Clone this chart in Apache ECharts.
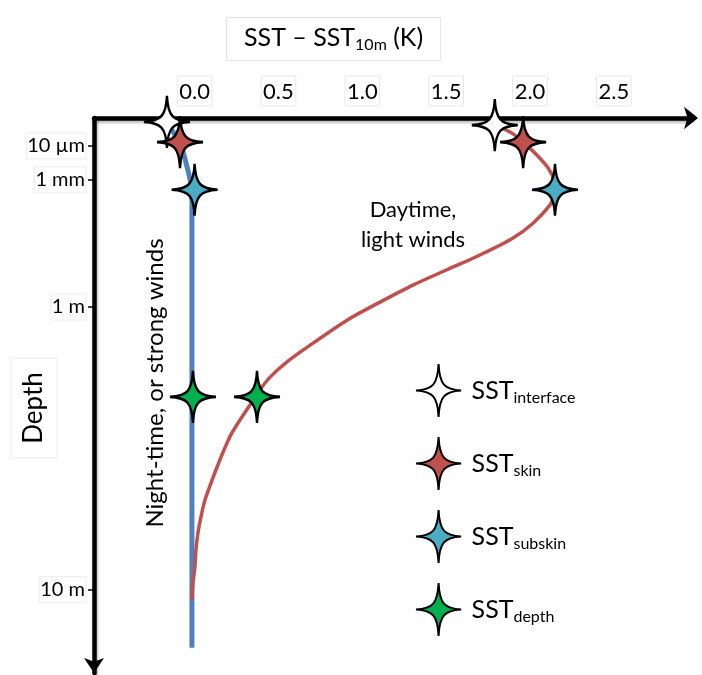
<!DOCTYPE html>
<html>
<head>
<meta charset="utf-8">
<script src="https://cdn.jsdelivr.net/npm/echarts@6/dist/echarts.min.js"></script>
<style>
  html, body { margin: 0; padding: 0; background: #fff; }
  #chart { width: 702px; height: 675px; }
</style>
</head>
<body>
<div id="chart"></div>
<script>
// x: SST - SST10m (K), y: schematic depth position (0 = surface, 100 = near bottom of axis)
var xTicks = [0, 0.5, 1.0, 1.5, 2.0, 2.5];
var depthNames = ['10 µm', '1 mm', '1 m', '10 m'];
var depthPos = [5.1, 11.3, 34.5, 86.1];

// night-time / strong winds profile
var nightX = [-0.147, -0.105, -0.087, -0.045, -0.021, -0.016, -0.016];
var nightY = [1.8, 3.5, 4.4, 8.9, 12.2, 15.0, 96.7];

// daytime / light winds profile
var dayX = [1.833, 1.899, 1.959, 2.042, 2.107, 2.143, 2.149, 2.137, 2.119, 2.018, 1.899, 1.702, 1.505,
            1.302, 1.106, 0.909, 0.706, 0.551, 0.45, 0.39, 0.33, 0.271, 0.217, 0.175, 0.134, 0.098,
            0.062, 0.038, 0.02, 0.008, 0.002, -0.01, -0.016];
var dayY = [1.8, 2.9, 4.4, 6.8, 9.1, 11.3, 13.1, 14.6, 15.9, 19.2, 21.9, 25.0, 27.7,
            30.5, 33.6, 36.9, 41.1, 44.5, 47.3, 49.6, 52.4, 55.1, 57.8, 60.6, 63.7, 66.6,
            69.7, 72.8, 75.7, 78.8, 81.9, 84.9, 88.0];

// star markers: [night value, day value] at each depth
var starNames = ['interface', 'skin', 'subskin', 'depth'];
var starColors = ['#ffffff', '#c0504d', '#4bacc6', '#00b050'];
var starX = [[-0.165, 1.79], [-0.087, 1.959], [0.0, 2.149], [-0.01, 0.372]];
var starY = [[0.7, 1.3], [4.4, 4.4], [13.1, 13.1], [50.9, 50.9]];

var FONT = 'Lato';
var STAR = 'path://M0,-27 C1,-6 6,-1 23,0 C6,1 1,6 0,27 C-1,6 -6,1 -23,0 C-6,-1 -1,-6 0,-27 Z';

function zip(xs, ys) {
    var out = [];
    for (var i = 0; i < xs.length; ++i) out.push([xs[i], ys[i]]);
    return out;
}

var chart = echarts.init(document.getElementById('chart'));

var series = [
    {
        type: 'line', name: 'night', data: zip(nightX, nightY),
        smooth: 0.3, showSymbol: false, silent: true, z: 2,
        lineStyle: { color: '#4f81bd', width: 5 }
    },
    {
        type: 'line', name: 'day', data: zip(dayX, dayY),
        smooth: 0.3, showSymbol: false, silent: true, z: 2,
        lineStyle: { color: '#c0504d', width: 3.5 }
    }
];
for (var i = 0; i < starNames.length; ++i) {
    series.push({
        type: 'scatter', name: starNames[i], data: zip(starX[i], starY[i]),
        symbol: STAR, symbolSize: [46, 52], z: 5,
        itemStyle: { color: starColors[i], borderColor: '#000', borderWidth: 2.5, opacity: 1 }
    });
}

var axisLineStyle = {
    color: '#000', width: 4.5,
    shadowColor: 'rgba(0,0,0,0.3)', shadowBlur: 3, shadowOffsetX: 1, shadowOffsetY: 2
};

var option = {
    animation: false,
    textStyle: { fontFamily: FONT },
    title: {
        left: 226, top: 15,
        padding: [8, 18, 8, 18],
        borderColor: '#e4e4e4', borderWidth: 1,
        text: '{a|SST – SST}{b|10m}{a| (K)}',
        textStyle: {
            fontWeight: 'normal',
            rich: {
                a: { fontFamily: FONT, fontSize: 25, fontWeight: 'normal', color: '#000', lineHeight: 30 },
                b: { fontFamily: FONT, fontSize: 16, fontWeight: 'normal', color: '#000', lineHeight: 16, verticalAlign: 'bottom' }
            }
        }
    },
    legend: {
        orient: 'vertical', left: 410, top: 358,
        itemWidth: 46, itemHeight: 53, itemGap: 18,
        data: starNames,
        formatter: function (name) { return '{a|SST}{b|' + name + '}'; },
        textStyle: {
            rich: {
                a: { fontFamily: FONT, fontSize: 25, color: '#000', lineHeight: 30, padding: [0, 0, 0, 5] },
                b: { fontFamily: FONT, fontSize: 16, color: '#000', lineHeight: 16, verticalAlign: 'bottom' }
            }
        }
    },
    grid: { left: 94, top: 118, width: 597, height: 555 },
    xAxis: {
        type: 'value', position: 'top', min: -0.6, max: 2.96,
        axisLine: { show: true, onZero: false, symbol: ['none', 'arrow'], symbolSize: [17, 14], symbolOffset: [0, 7], lineStyle: axisLineStyle },
        axisTick: { show: false },
        splitLine: { show: false },
        axisLabel: {
            customValues: xTicks, margin: 12,
            fontFamily: FONT, fontSize: 22, color: '#000',
            borderColor: '#e8e8e8', borderWidth: 1, padding: [5, 2, 3, 2],
            formatter: function (v) { return v.toFixed(1); }
        }
    },
    yAxis: {
        type: 'value', inverse: true, min: 0, max: 101.3,
        axisLine: { show: true, onZero: false, symbol: ['arrow', 'none'], symbolSize: [15, 15], lineStyle: axisLineStyle },
        axisTick: { show: true, customValues: depthPos, length: 6, lineStyle: { color: '#000', width: 1.5 } },
        splitLine: { show: false },
        axisLabel: {
            customValues: depthPos, margin: 8,
            fontFamily: FONT, fontSize: 20, color: '#000',
            borderColor: '#ececec', borderWidth: 1, padding: [3, 1, 3, 1],
            formatter: function (v) {
                var k = depthPos.indexOf(v);
                return k >= 0 ? depthNames[k] : '';
            }
        }
    },
    graphic: [
        {
            type: 'text', x: 34, y: 408, rotation: Math.PI / 2,
            style: { text: 'Depth', font: '26px Lato', fill: '#000', align: 'center', verticalAlign: 'middle',
                     borderColor: '#ececec', borderWidth: 1, padding: [10, 14, 10, 14] }
        },
        {
            type: 'text', x: 155, y: 383, rotation: Math.PI / 2,
            style: { text: 'Night-time, or strong winds', font: '24px Lato', fill: '#000', align: 'center', verticalAlign: 'middle' }
        },
        {
            type: 'text', x: 413, y: 225,
            style: { text: 'Daytime,\nlight winds', font: '22px Lato', lineHeight: 30, fill: '#000', align: 'center', verticalAlign: 'middle' }
        }
    ],
    series: series
};
chart.setOption(option);
</script>
</body>
</html>
